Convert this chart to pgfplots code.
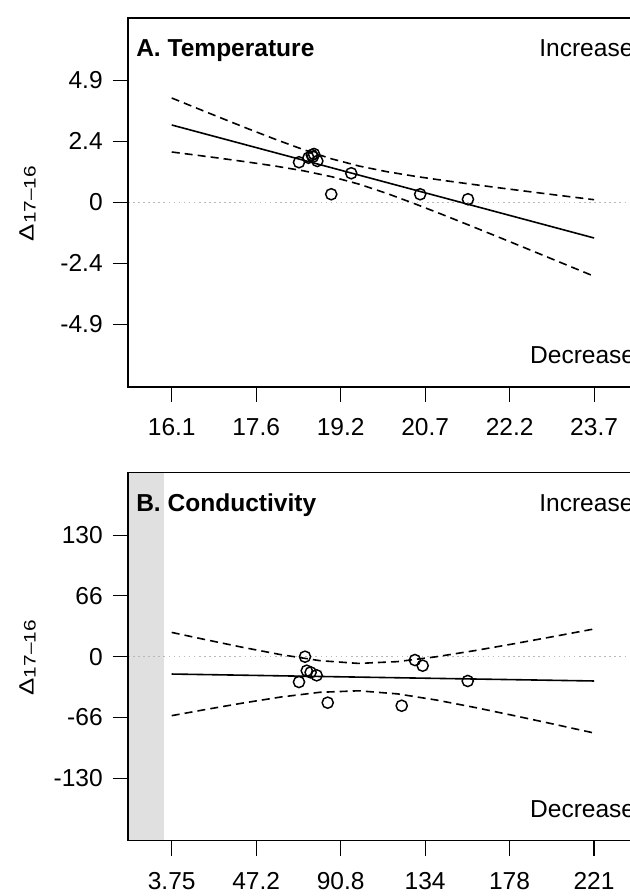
\documentclass[border=0pt]{standalone}
\usepackage{pgfplots}
\pgfplotsset{compat=1.18}
\usepackage{fontspec}
\setmainfont{Liberation Sans}
\definecolor{band}{RGB}{224,224,224}
\definecolor{zeroline}{RGB}{185,185,185}
\newcommand{\bigfnt}{\fontsize{18.4}{22}\selectfont}
\newcommand{\dlabel}{\scalebox{1.25}[1]{\fontsize{15.5}{18}\selectfont Δ\fontsize{12.5}{14}\selectfont\raisebox{-1.5pt}{17–16}}}
\begin{document}
\begin{tikzpicture}
\pgfplotsset{
  panel/.style={
    scale only axis, width=382.5pt, anchor=south west,
    axis on top, clip=false,
    axis line style={line width=0.8pt, black},
    every tick/.style={line width=0.8pt, black},
    major tick length=11.25pt,
    tick align=outside,
    xtick pos=bottom, ytick pos=left,
    tick label style={font=\bigfnt},
    yticklabel style={anchor=east, xshift=-4.2pt},
    xticklabel style={anchor=north, yshift=-8.6pt},
  },
  fit/.style={black, line width=1.2pt, no markers},
  ci/.style={black, line width=1.2pt, no markers, dash pattern=on 6pt off 3.8pt},
  zero/.style={zeroline, line width=0.9pt, no markers, dash pattern=on 1.2pt off 2.6pt},
  pts/.style={only marks, mark=o, mark size=4.2pt, black, mark options={line width=1.1pt}},
}
% ---------------- Panel A ----------------
\begin{axis}[panel, at={(96pt,381.75pt)}, height=276.75pt,
  xmin=15.333, xmax=24.51, ymin=-7.39, ymax=7.37,
  xtick={16.12,17.64,19.16,20.68,22.2,23.72},
  xticklabels={16.1,17.6,19.2,20.7,22.2,23.7},
  ytick={-4.88,-2.44,0,2.44,4.88},
  yticklabels={-4.9,-2.4,0,2.4,4.9}]
\addplot[zero] coordinates {(15.333,0) (24.51,0)};
\addplot[ci] coordinates {(16.12,4.170) (16.5,3.826) (17,3.377) (17.5,2.934) (18,2.504) (18.5,2.096) (19,1.734) (19.5,1.443) (20,1.219) (20.5,1.037) (21,0.875) (21.5,0.725) (22,0.580) (22.5,0.439) (23,0.299) (23.72,0.102)};
\addplot[ci] coordinates {(16.12,2.010) (16.5,1.902) (17,1.757) (17.5,1.604) (18,1.441) (18.5,1.253) (19,1.020) (19.5,0.717) (20,0.346) (20.5,-0.067) (21,-0.500) (21.5,-0.944) (22,-1.393) (22.5,-1.847) (23,-2.303) (23.72,-2.961)};
\addplot[fit] coordinates {(16.12,3.09) (23.72,-1.43)};
\addplot[pts] coordinates {(18.41,1.60) (18.58,1.78) (18.64,1.89) (18.68,1.93) (18.66,1.82) (18.74,1.65) (18.99,0.32) (19.35,1.16) (20.59,0.32) (21.45,0.12)};
\node[anchor=base west, inner sep=0pt, font=\bigfnt\bfseries] at (axis description cs:0.0157,0.8943) {A. Temperature};
\node[anchor=base west, inner sep=0pt, font=\bigfnt] at (axis description cs:0.806,0.8943) {Increase};
\node[anchor=base west, inner sep=0pt, font=\bigfnt] at (axis description cs:0.788,0.0642) {Decrease};
\node[rotate=90, inner sep=0pt] at (axis description cs:-0.197,0.497) {\dlabel};
\end{axis}
% ---------------- Panel B ----------------
\begin{axis}[panel, at={(96pt,41.475pt)}, height=276pt,
  xmin=-18.76, xmax=243.9, ymin=-198.5, ymax=198.5,
  xtick={3.75,47.25,90.75,134.25,177.75,221.25},
  xticklabels={3.75,47.2,90.8,134,178,221},
  ytick={-131.2,-65.6,0,65.6,131.2},
  yticklabels={-130,-66,0,66,130}]
\addplot[draw=none, fill=band] coordinates {(-18.76,-198.5) (0,-198.5) (0,198.5) (-18.76,198.5)} -- cycle;
\addplot[zero] coordinates {(-18.76,0) (243.9,0)};
\addplot[ci] coordinates {(3.75,26.2) (20,18.91) (40,10.23) (60,2.21) (80,-4.26) (100,-7.25) (120,-5.32) (140,-0.07) (160,6.63) (180,13.96) (200,21.60) (221.25,29.91)};
\addplot[ci] coordinates {(3.75,-63.6) (20,-57.43) (40,-50.13) (60,-43.49) (80,-38.40) (100,-36.79) (120,-40.10) (140,-46.73) (160,-54.81) (180,-63.52) (200,-72.54) (221.25,-82.31)};
\addplot[fit] coordinates {(3.75,-18.7) (221.25,-26.2)};
\addplot[pts] coordinates {(72.4,0) (73.3,-15.1) (75.3,-16.9) (78.4,-20.1) (69.3,-27.3) (84.1,-49.6) (129.0,-3.6) (133.0,-9.7) (122.2,-52.9) (156.2,-26.2)};
\node[anchor=base west, inner sep=0pt, font=\bigfnt\bfseries] at (axis description cs:0.0157,0.895) {B. Conductivity};
\node[anchor=base west, inner sep=0pt, font=\bigfnt] at (axis description cs:0.806,0.895) {Increase};
\node[anchor=base west, inner sep=0pt, font=\bigfnt] at (axis description cs:0.788,0.0636) {Decrease};
\node[rotate=90, inner sep=0pt] at (axis description cs:-0.197,0.497) {\dlabel};
\end{axis}
\pgfresetboundingbox
\path[use as bounding box] (0,0) rectangle (471.75pt,672pt);
\end{tikzpicture}
\end{document}
